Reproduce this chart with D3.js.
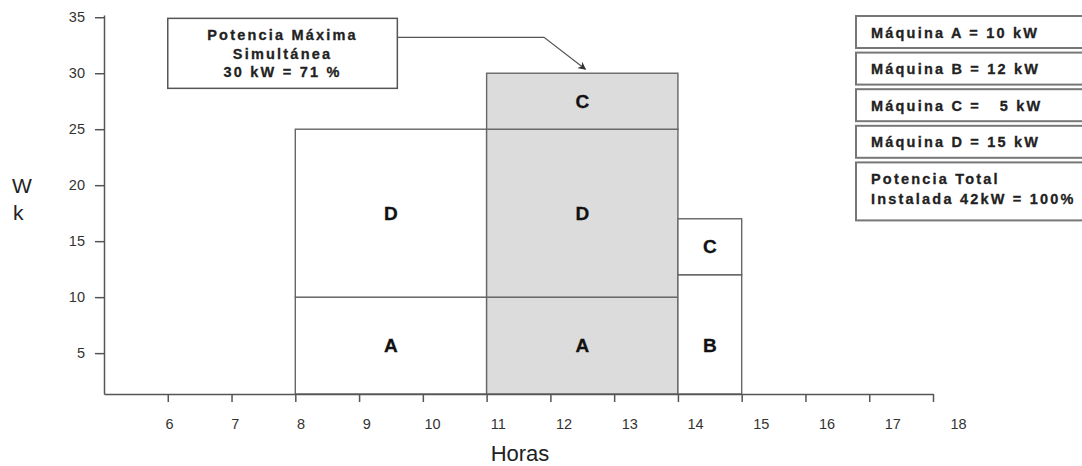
<!DOCTYPE html>
<html>
<head>
<meta charset="utf-8">
<script src="https://cdn.jsdelivr.net/npm/d3@7"></script>
<style>
  body { margin: 0; background: #fff; }
  svg { font-family: "Liberation Sans", Arial, sans-serif; }
  .axis path, .axis line { stroke: #555; stroke-width: 1.5; }
  .axis text { fill: #333; font-size: 14.5px; font-family: "Liberation Sans", Arial, sans-serif; }
  .box-text { font-weight: bold; font-size: 14.5px; fill: #222; stroke: #222; stroke-width: 0.3px; letter-spacing: 2.2px; white-space: pre; }
</style>
</head>
<body>
<svg id="chart" width="1082" height="466"></svg>
<script>
// datos
var hours = [6, 7, 8, 9, 10, 11, 12, 13, 14, 15, 16, 17, 18];
var yTicks = [5, 10, 15, 20, 25, 30, 35];
var blockLabels = ['A', 'D', 'A', 'D', 'C', 'B', 'C'];
var blockStart = [8, 8, 11, 11, 11, 14, 14];
var blockEnd = [11, 11, 14, 14, 14, 15, 15];
var blockLow = [0, 10, 0, 10, 25, 0, 12];
var blockHigh = [10, 25, 10, 25, 30, 12, 17];
var blockPeak = [false, false, true, true, true, false, false];
var labelAt = [5.7, 17.5, 5.7, 17.5, 27.5, 5.7, 14.5];
var machines = ['Máquina A = 10 kW', 'Máquina B = 12 kW', 'Máquina C =   5 kW', 'Máquina D = 15 kW'];
var totalLines = ['Potencia Total', 'Instalada 42kW = 100%'];
var peakLines = ['Potencia Máxima', 'Simultánea', '30 kW = 71 %'];

var svg = d3.select('#chart');

var yMin = 1.35, yMax = 35.2;
var x = d3.scaleLinear().domain([5, 18]).range([104, 933]);
var xLabel = d3.scaleLinear().domain([6, 18]).range([169, 958]); // etiquetas algo desplazadas
var y = d3.scaleLinear().domain([yMin, yMax]).range([394, 15]);

// bloques
var blocks = blockLabels.map(function (l, i) {
    return { label: l, start: blockStart[i], end: blockEnd[i], low: Math.max(blockLow[i], yMin),
             high: blockHigh[i], peak: blockPeak[i], at: labelAt[i] };
});

svg.selectAll('.block')
    .data(blocks)
    .enter()
    .append('rect')
    .attr('class', 'block')
    .attr('x', d => x(d.start))
    .attr('y', d => y(d.high))
    .attr('width', d => x(d.end) - x(d.start))
    .attr('height', d => y(d.low) - y(d.high))
    .attr('fill', d => d.peak ? '#dcdcdc' : '#fff')
    .attr('stroke', '#666')
    .attr('stroke-width', 1.4);

svg.selectAll('.block-label')
    .data(blocks)
    .enter()
    .append('text')
    .attr('class', 'block-label')
    .attr('x', d => x((d.start + d.end) / 2))
    .attr('y', d => y(d.at))
    .attr('dy', '0.35em')
    .attr('text-anchor', 'middle')
    .attr('font-weight', 'bold')
    .attr('font-size', 19)
    .attr('fill', '#111')
    .attr('stroke', '#111')
    .attr('stroke-width', 0.3)
    .text(d => d.label);

// ejes
svg.append('g')
    .attr('class', 'axis')
    .attr('transform', 'translate(0,' + y(yMin) + ')')
    .call(d3.axisBottom(x).tickValues(hours).tickSize(8).tickSizeOuter(0).tickFormat(''));

svg.append('g')
    .attr('class', 'axis')
    .attr('transform', 'translate(0,' + y(yMin) + ')')
    .call(d3.axisBottom(xLabel).tickValues(hours).tickSize(0).tickPadding(25).tickFormat(d3.format('d')))
    .call(g => g.select('.domain').remove());

svg.append('g')
    .attr('class', 'axis')
    .attr('transform', 'translate(' + x(5) + ',0)')
    .call(d3.axisLeft(y).tickValues(yTicks).tickSize(9).tickSizeOuter(0).tickPadding(10));

// títulos
svg.append('text')
    .attr('x', 520)
    .attr('y', 461)
    .attr('text-anchor', 'middle')
    .attr('font-size', 22)
    .attr('fill', '#222')
    .text('Horas');

svg.append('text')
    .attr('x', 12)
    .attr('y', 193)
    .attr('font-size', 21)
    .attr('fill', '#222')
    .text('W');

svg.append('text')
    .attr('x', 13)
    .attr('y', 220)
    .attr('font-size', 21)
    .attr('fill', '#222')
    .text('k');

// anotación de potencia máxima
var ann = { x0: 6.0, x1: 9.6, top: 34.9, bottom: 28.65 };
svg.append('rect')
    .attr('x', x(ann.x0))
    .attr('y', y(ann.top))
    .attr('width', x(ann.x1) - x(ann.x0))
    .attr('height', y(ann.bottom) - y(ann.top))
    .attr('fill', '#fff')
    .attr('stroke', '#555')
    .attr('stroke-width', 1.5);

svg.selectAll('.peak-text')
    .data(peakLines)
    .enter()
    .append('text')
    .attr('class', 'box-text')
    .attr('x', x((ann.x0 + ann.x1) / 2))
    .attr('y', (d, i) => y(ann.top) + 22 + i * 18.5)
    .attr('text-anchor', 'middle')
    .text(d => d);

svg.append('defs').append('marker')
    .attr('id', 'arrow')
    .attr('viewBox', '0 0 10 10')
    .attr('refX', 9)
    .attr('refY', 5)
    .attr('markerWidth', 8)
    .attr('markerHeight', 8)
    .attr('markerUnits', 'userSpaceOnUse')
    .attr('orient', 'auto')
    .append('path')
    .attr('d', 'M0,0 L10,5 L0,10 L3,5 z')
    .attr('fill', '#333');

svg.append('path')
    .attr('d', d3.line()([[x(ann.x1), y(33.2)], [x(11.9), y(33.2)], [x(12.55), y(30.35)]]))
    .attr('fill', 'none')
    .attr('stroke', '#555')
    .attr('stroke-width', 1.2)
    .attr('marker-end', 'url(#arrow)');

// leyenda de máquinas
var legendX = 856, legendTop = 16, legendPitch = 36.6;
svg.selectAll('.machine-box')
    .data(machines)
    .enter()
    .append('rect')
    .attr('x', legendX)
    .attr('y', (d, i) => legendTop + i * legendPitch)
    .attr('width', 240)
    .attr('height', 32)
    .attr('fill', '#fff')
    .attr('stroke', '#777')
    .attr('stroke-width', 2);

svg.selectAll('.machine-text')
    .data(machines)
    .enter()
    .append('text')
    .attr('class', 'box-text')
    .attr('x', legendX + 15)
    .attr('y', (d, i) => legendTop + i * legendPitch + 21.5)
    .text(d => d);

var totalTop = legendTop + machines.length * legendPitch;
svg.append('rect')
    .attr('x', legendX)
    .attr('y', totalTop)
    .attr('width', 240)
    .attr('height', 58)
    .attr('fill', '#fff')
    .attr('stroke', '#777')
    .attr('stroke-width', 2);

svg.selectAll('.total-text')
    .data(totalLines)
    .enter()
    .append('text')
    .attr('class', 'box-text')
    .attr('x', legendX + 15)
    .attr('y', (d, i) => totalTop + 21.5 + i * 20)
    .text(d => d);
</script>
</body>
</html>
